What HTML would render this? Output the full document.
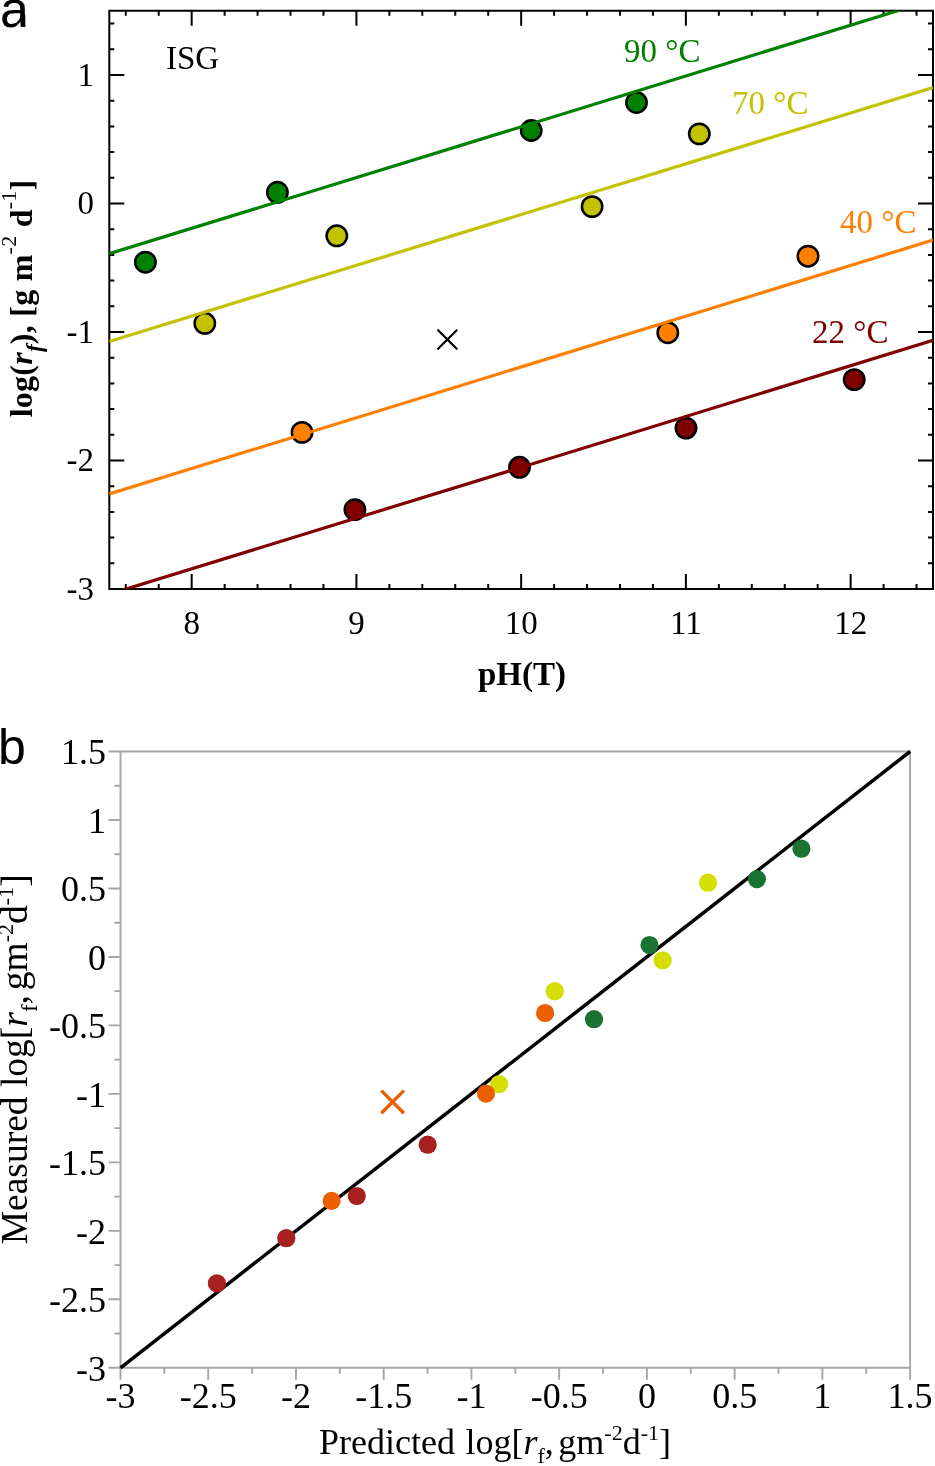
<!DOCTYPE html>
<html><head><meta charset="utf-8"><style>
html,body{margin:0;padding:0;background:#fff;}
svg{display:block;will-change:transform;}
text{font-family:"Liberation Serif",serif;}
text.ss{font-family:"Liberation Sans",sans-serif;}
</style></head><body>
<svg width="935" height="1466" viewBox="0 0 935 1466">
<rect width="935" height="1466" fill="#fff"/>
<rect x="109.30" y="10.75" width="823.70" height="578.25" fill="none" stroke="#000" stroke-width="2"/>
<path d="M125.77 589.00v-5M125.77 10.75v5M158.72 589.00v-5M158.72 10.75v5M191.67 589.00v-15M191.67 10.75v15M224.62 589.00v-5M224.62 10.75v5M257.57 589.00v-5M257.57 10.75v5M290.51 589.00v-5M290.51 10.75v5M323.46 589.00v-5M323.46 10.75v5M356.41 589.00v-15M356.41 10.75v15M389.36 589.00v-5M389.36 10.75v5M422.31 589.00v-5M422.31 10.75v5M455.25 589.00v-5M455.25 10.75v5M488.20 589.00v-5M488.20 10.75v5M521.15 589.00v-15M521.15 10.75v15M554.10 589.00v-5M554.10 10.75v5M587.05 589.00v-5M587.05 10.75v5M619.99 589.00v-5M619.99 10.75v5M652.94 589.00v-5M652.94 10.75v5M685.89 589.00v-15M685.89 10.75v15M718.84 589.00v-5M718.84 10.75v5M751.79 589.00v-5M751.79 10.75v5M784.73 589.00v-5M784.73 10.75v5M817.68 589.00v-5M817.68 10.75v5M850.63 589.00v-15M850.63 10.75v15M883.58 589.00v-5M883.58 10.75v5M916.53 589.00v-5M916.53 10.75v5M109.30 563.30h5M933.00 563.30h-5M109.30 537.60h5M933.00 537.60h-5M109.30 511.90h5M933.00 511.90h-5M109.30 486.20h5M933.00 486.20h-5M109.30 460.50h15M933.00 460.50h-15M109.30 434.80h5M933.00 434.80h-5M109.30 409.10h5M933.00 409.10h-5M109.30 383.40h5M933.00 383.40h-5M109.30 357.70h5M933.00 357.70h-5M109.30 332.00h15M933.00 332.00h-15M109.30 306.30h5M933.00 306.30h-5M109.30 280.60h5M933.00 280.60h-5M109.30 254.90h5M933.00 254.90h-5M109.30 229.20h5M933.00 229.20h-5M109.30 203.50h15M933.00 203.50h-15M109.30 177.80h5M933.00 177.80h-5M109.30 152.10h5M933.00 152.10h-5M109.30 126.40h5M933.00 126.40h-5M109.30 100.70h5M933.00 100.70h-5M109.30 75.00h15M933.00 75.00h-15M109.30 49.30h5M933.00 49.30h-5M109.30 23.60h5M933.00 23.60h-5" stroke="#000" stroke-width="2" fill="none"/>
<text x="191.67" y="634" font-size="33" text-anchor="middle">8</text>
<text x="356.41" y="634" font-size="33" text-anchor="middle">9</text>
<text x="521.15" y="634" font-size="33" text-anchor="middle">10</text>
<text x="685.89" y="634" font-size="33" text-anchor="middle">11</text>
<text x="850.63" y="634" font-size="33" text-anchor="middle">12</text>
<text x="94" y="85.80" font-size="33" text-anchor="end">1</text>
<text x="94" y="214.30" font-size="33" text-anchor="end">0</text>
<text x="94" y="342.80" font-size="33" text-anchor="end">-1</text>
<text x="94" y="471.30" font-size="33" text-anchor="end">-2</text>
<text x="94" y="599.80" font-size="33" text-anchor="end">-3</text>
<circle cx="145.4" cy="262.2" r="10.2" fill="#008000" stroke="#000" stroke-width="2.5"/>
<circle cx="277.4" cy="192.3" r="10.2" fill="#008000" stroke="#000" stroke-width="2.5"/>
<circle cx="531.2" cy="130.5" r="10.2" fill="#008000" stroke="#000" stroke-width="2.5"/>
<circle cx="636.5" cy="102.5" r="10.2" fill="#008000" stroke="#000" stroke-width="2.5"/>
<circle cx="204.8" cy="323.3" r="10.2" fill="#c2c200" stroke="#000" stroke-width="2.5"/>
<circle cx="336.8" cy="235.8" r="10.2" fill="#c2c200" stroke="#000" stroke-width="2.5"/>
<circle cx="592.1" cy="206.6" r="10.2" fill="#c2c200" stroke="#000" stroke-width="2.5"/>
<circle cx="699.3" cy="133.9" r="10.2" fill="#c2c200" stroke="#000" stroke-width="2.5"/>
<circle cx="302.0" cy="432.4" r="10.2" fill="#ff8000" stroke="#000" stroke-width="2.5"/>
<circle cx="667.8" cy="332.7" r="10.2" fill="#ff8000" stroke="#000" stroke-width="2.5"/>
<circle cx="808.0" cy="256.2" r="10.2" fill="#ff8000" stroke="#000" stroke-width="2.5"/>
<circle cx="354.9" cy="509.6" r="10.2" fill="#800000" stroke="#000" stroke-width="2.5"/>
<circle cx="519.5" cy="467.3" r="10.2" fill="#800000" stroke="#000" stroke-width="2.5"/>
<circle cx="686.0" cy="428.1" r="10.2" fill="#800000" stroke="#000" stroke-width="2.5"/>
<circle cx="854.2" cy="379.6" r="10.2" fill="#800000" stroke="#000" stroke-width="2.5"/>
<path d="M438.09999999999997 330.2L456.7 348.8M438.09999999999997 348.8L456.7 330.2" stroke="#000" stroke-width="2.2" stroke-linecap="round"/>
<clipPath id="ca"><rect x="109.3" y="10.75" width="823.7" height="578.25"/></clipPath>
<line clip-path="url(#ca)" x1="109.30" y1="253.70" x2="933.00" y2="-0.15" stroke="#008000" stroke-width="3.2"/>
<line clip-path="url(#ca)" x1="109.30" y1="341.50" x2="933.00" y2="87.64" stroke="#c2c200" stroke-width="3.2"/>
<line clip-path="url(#ca)" x1="109.30" y1="493.90" x2="933.00" y2="240.05" stroke="#ff8000" stroke-width="3.2"/>
<line clip-path="url(#ca)" x1="109.30" y1="594.20" x2="933.00" y2="340.35" stroke="#800000" stroke-width="3.2"/>
<text x="166" y="69" font-size="33">ISG</text>
<text x="624" y="61.6" font-size="33" fill="#008000">90 °C</text>
<text x="732" y="114.4" font-size="33" fill="#c2c200">70 °C</text>
<text x="840" y="233" font-size="33" fill="#ff8000">40 °C</text>
<text x="812" y="342.6" font-size="33" fill="#800000">22 °C</text>
<text x="478" y="685" font-size="33" font-weight="bold">pH(T)</text>
<text transform="translate(31.7 417.3) rotate(-90)" font-size="32" font-weight="bold" letter-spacing="0.25">log(<tspan font-style="italic">r</tspan><tspan font-style="italic" font-size="23" dy="10.5">f</tspan><tspan dy="-10.5">), [g m</tspan><tspan font-weight="normal" font-size="22" dy="-16">-2</tspan><tspan dy="16"> d</tspan><tspan font-weight="normal" font-size="22" dy="-16">-1</tspan><tspan dy="16">]</tspan></text>
<text class="ss" x="0" y="27" font-size="52">a</text>
<rect x="25.3" y="19" width="8" height="12" fill="#fff"/>
<rect x="20.6" y="14" width="4.6" height="12.8" fill="#000"/>
<text class="ss" x="-2" y="764" font-size="50">b</text>
<path d="M120.5 1367.8V751.5H910.1V1367.8H120.5" fill="none" stroke="#a6a6a6" stroke-width="1.9"/>
<path d="M120.50 1367.8v12M120.5 1367.80h-12M164.37 1367.8v6M120.5 1333.56h-6M208.23 1367.8v12M120.5 1299.32h-12M252.10 1367.8v6M120.5 1265.08h-6M295.97 1367.8v12M120.5 1230.84h-12M339.83 1367.8v6M120.5 1196.61h-6M383.70 1367.8v12M120.5 1162.37h-12M427.57 1367.8v6M120.5 1128.13h-6M471.43 1367.8v12M120.5 1093.89h-12M515.30 1367.8v6M120.5 1059.65h-6M559.17 1367.8v12M120.5 1025.41h-12M603.03 1367.8v6M120.5 991.17h-6M646.90 1367.8v12M120.5 956.93h-12M690.77 1367.8v6M120.5 922.69h-6M734.63 1367.8v12M120.5 888.46h-12M778.50 1367.8v6M120.5 854.22h-6M822.37 1367.8v12M120.5 819.98h-12M866.23 1367.8v6M120.5 785.74h-6M910.10 1367.8v12M120.5 751.50h-12" stroke="#a6a6a6" stroke-width="1.9" fill="none"/>
<text x="120.50" y="1408" font-size="36" text-anchor="middle">-3</text>
<text x="106" y="1380.50" font-size="36" text-anchor="end">-3</text>
<text x="208.23" y="1408" font-size="36" text-anchor="middle">-2.5</text>
<text x="106" y="1312.02" font-size="36" text-anchor="end">-2.5</text>
<text x="295.97" y="1408" font-size="36" text-anchor="middle">-2</text>
<text x="106" y="1243.54" font-size="36" text-anchor="end">-2</text>
<text x="383.70" y="1408" font-size="36" text-anchor="middle">-1.5</text>
<text x="106" y="1175.07" font-size="36" text-anchor="end">-1.5</text>
<text x="471.43" y="1408" font-size="36" text-anchor="middle">-1</text>
<text x="106" y="1106.59" font-size="36" text-anchor="end">-1</text>
<text x="559.17" y="1408" font-size="36" text-anchor="middle">-0.5</text>
<text x="106" y="1038.11" font-size="36" text-anchor="end">-0.5</text>
<text x="646.90" y="1408" font-size="36" text-anchor="middle">0</text>
<text x="106" y="969.63" font-size="36" text-anchor="end">0</text>
<text x="734.63" y="1408" font-size="36" text-anchor="middle">0.5</text>
<text x="106" y="901.16" font-size="36" text-anchor="end">0.5</text>
<text x="822.37" y="1408" font-size="36" text-anchor="middle">1</text>
<text x="106" y="832.68" font-size="36" text-anchor="end">1</text>
<text x="910.10" y="1408" font-size="36" text-anchor="middle">1.5</text>
<text x="106" y="764.20" font-size="36" text-anchor="end">1.5</text>
<line x1="120.5" y1="1367.8" x2="910.1" y2="751.5" stroke="#000" stroke-width="3.5"/>
<circle cx="499.2" cy="1084.1" r="9.1" fill="#d4de00"/>
<circle cx="554.8" cy="991.2" r="9.1" fill="#d4de00"/>
<circle cx="662.6" cy="960.3" r="9.1" fill="#d4de00"/>
<circle cx="708.0" cy="882.7" r="9.1" fill="#d4de00"/>
<circle cx="594.0" cy="1019.2" r="9.1" fill="#197332"/>
<circle cx="649.5" cy="945.05" r="9.1" fill="#197332"/>
<circle cx="756.9" cy="879.1" r="9.1" fill="#197332"/>
<circle cx="801.4" cy="848.7" r="9.1" fill="#197332"/>
<circle cx="331.6" cy="1200.9" r="9.1" fill="#ec5f00"/>
<circle cx="486.0" cy="1093.6" r="9.1" fill="#ec5f00"/>
<circle cx="545.1" cy="1013.0" r="9.1" fill="#ec5f00"/>
<circle cx="216.9" cy="1283.3" r="9.1" fill="#a82020"/>
<circle cx="286.3" cy="1238.2" r="9.1" fill="#a82020"/>
<circle cx="356.8" cy="1196.0" r="9.1" fill="#a82020"/>
<circle cx="427.7" cy="1144.7" r="9.1" fill="#a82020"/>
<path d="M381.3 1090.6000000000001L403.90000000000003 1113.2M381.3 1113.2L403.90000000000003 1090.6000000000001" stroke="#ec5f00" stroke-width="3.4"/>
<text x="319" y="1453.5" font-size="36">Predicted<tspan dx="1.5"> log[</tspan><tspan font-style="italic">r</tspan><tspan font-size="22" dy="9.5">f</tspan><tspan dy="-9.5">,</tspan><tspan dx="-4.5"> gm</tspan><tspan font-size="22" dy="-14">-2</tspan><tspan dy="14">d</tspan><tspan font-size="22" dy="-14">-1</tspan><tspan dy="14">]</tspan></text>
<text transform="translate(27.1 1244.3) rotate(-90)" font-size="37.5">Measured log[<tspan font-style="italic">r</tspan><tspan font-size="23" dy="9.5">f</tspan><tspan dy="-9.5">,</tspan><tspan dx="-4.5"> gm</tspan><tspan font-size="22" dy="-14">-2</tspan><tspan dy="14">d</tspan><tspan font-size="22" dy="-14">-1</tspan><tspan dy="14">]</tspan></text>
</svg>
</body></html>
